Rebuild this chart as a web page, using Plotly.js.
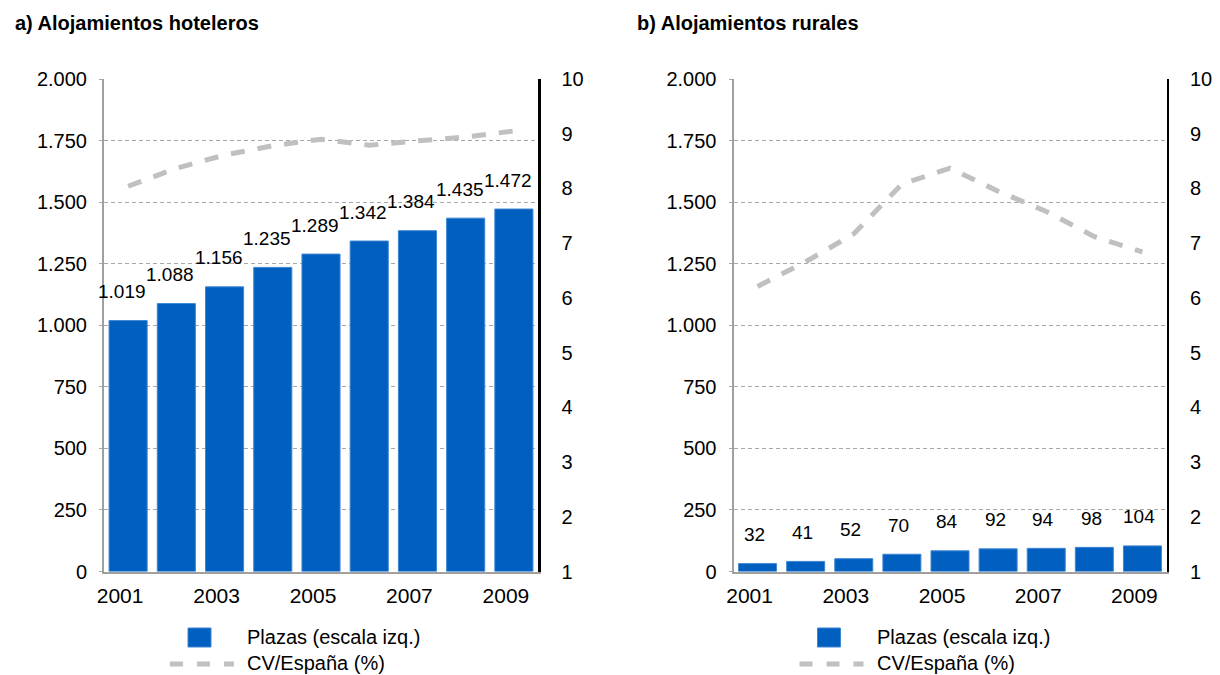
<!DOCTYPE html>
<html>
<head>
<meta charset="utf-8">
<script src="https://cdn.plot.ly/plotly-3.0.1.min.js"></script>
<style>
html,body{margin:0;padding:0;background:#fff;}
#chart{width:1220px;height:675px;}
</style>
</head>
<body>
<div id="chart"></div>
<script>
// ---- data ----
const years = [2001, 2002, 2003, 2004, 2005, 2006, 2007, 2008, 2009];
const hotelPlazas = [1019, 1088, 1156, 1235, 1289, 1342, 1384, 1435, 1472];
const hotelCV = [8.04, 8.37, 8.61, 8.78, 8.90, 8.79, 8.87, 8.94, 9.05];
const ruralPlazas = [32, 41, 52, 70, 84, 92, 94, 98, 104];
const ruralCV = [6.21, 6.66, 7.17, 8.08, 8.37, 7.95, 7.58, 7.12, 6.84];
const xTickVals = [2001, 2003, 2005, 2007, 2009];
const xTickText = ['2001', '2003', '2005', '2007', '2009'];
const leftTickVals = [0, 250, 500, 750, 1000, 1250, 1500, 1750, 2000];
const leftTickText = ['0', '250', '500', '750', '1.000', '1.250', '1.500', '1.750', '2.000'];
const rightTickVals = [1, 2, 3, 4, 5, 6, 7, 8, 9, 10];
const titleA = 'a) Alojamientos hoteleros';
const titleB = 'b) Alojamientos rurales';
const legendBar = 'Plazas (escala izq.)';
const legendLine = 'CV/España (%)';

// ---- helpers ----
const W = 1220, H = 675;
const px = v => v / W;
const py = v => 1 - v / H;
const FONT = 'Liberation Sans, Arial, sans-serif';
const BLUE = '#005FBF';
const GREY = '#C0C0C0';
function fmt(v) {
  if (v < 1000) return String(v);
  const t = Math.floor(v / 1000), r = v % 1000;
  return t + '.' + String(r).padStart(3, '0');
}

const traces = [
  {type: 'bar', x: years, y: hotelPlazas, xaxis: 'x', yaxis: 'y', width: 0.79,
   marker: {color: BLUE, line: {color: '#3E86D4', width: 1}}},
  {type: 'scatter', mode: 'lines', x: years, y: hotelCV, xaxis: 'x', yaxis: 'y2',
   line: {color: GREY, width: 5, dash: '14px,13px'}},
  {type: 'bar', x: years, y: ruralPlazas, xaxis: 'x2', yaxis: 'y3', width: 0.79,
   marker: {color: BLUE, line: {color: '#3E86D4', width: 1}}},
  {type: 'scatter', mode: 'lines', x: years, y: ruralCV, xaxis: 'x2', yaxis: 'y4',
   line: {color: GREY, width: 5, dash: '14px,13px'}}
];

const yDom = [1 - 571.5 / H, 1 - 79 / H];
const xDomA = [104 / W, 538 / W];
const xDomB = [733.5 / W, 1166.5 / W];

function xAx(dom, anchor) {
  return {domain: dom, anchor: anchor, range: [2000.5, 2009.5], tickvals: xTickVals, ticktext: xTickText,
    showgrid: false, zeroline: false, showline: true, linecolor: '#A0A0A0', linewidth: 2,
    ticks: '', ticklabelshift: -8, ticklabelstandoff: 4, tickfont: {size: 21, color: '#000', family: FONT}, fixedrange: true};
}
function yLeft(anchor) {
  return {domain: yDom, anchor: anchor, range: [0, 2000], tickvals: leftTickVals, ticktext: leftTickText,
    showgrid: true, gridcolor: '#A8A8A8', gridwidth: 1, griddash: '4px,3px', zeroline: false,
    showline: true, linecolor: '#A0A0A0', linewidth: 2, ticks: 'outside', ticklen: 3, tickcolor: '#A8A8A8',
    ticklabelstandoff: 8, tickfont: {size: 20, color: '#000', family: FONT}, fixedrange: true};
}
function yRight(anchor, over) {
  return {domain: yDom, anchor: anchor, overlaying: over, side: 'right', range: [1, 10], tickvals: rightTickVals,
    showgrid: false, zeroline: false, showline: true, linecolor: '#000', linewidth: 2.5, ticks: '',
    ticklabelstandoff: 17, tickfont: {size: 20, color: '#000', family: FONT}, fixedrange: true};
}

const annotations = [];
years.forEach((yr, i) => {
  annotations.push({xref: 'x', yref: 'y', x: yr, y: hotelPlazas[i], text: fmt(hotelPlazas[i]),
    showarrow: false, yshift: 29, xshift: -6, font: {size: 19, color: '#000', family: FONT}});
  annotations.push({xref: 'x2', yref: 'y3', x: yr, y: ruralPlazas[i], text: fmt(ruralPlazas[i]),
    showarrow: false, yshift: 29, xshift: -3, font: {size: 19, color: '#000', family: FONT}});
});
// titles
[[titleA, 13], [titleB, 635]].forEach(([t, x]) => {
  annotations.push({xref: 'paper', yref: 'paper', x: px(x), y: py(23), xanchor: 'left', yanchor: 'middle',
    text: '<b>' + t + '</b>', showarrow: false, font: {size: 20, color: '#000', family: FONT}});
});
// legends
const shapes = [];
[0, 629.5].forEach(off => {
  shapes.push({type: 'rect', xref: 'paper', yref: 'paper', x0: px(188 + off), x1: px(211 + off),
    y0: py(647), y1: py(628), fillcolor: BLUE, line: {color: '#3E86D4', width: 1}});
  shapes.push({type: 'line', xref: 'paper', yref: 'paper', x0: px(170 + off), x1: px(234 + off),
    y0: py(664), y1: py(664), line: {color: GREY, width: 5, dash: '13px,14px'}});
  annotations.push({xref: 'paper', yref: 'paper', x: px(245 + off), y: py(637), xanchor: 'left', yanchor: 'middle',
    text: legendBar, showarrow: false, font: {size: 20, color: '#000', family: FONT}});
  annotations.push({xref: 'paper', yref: 'paper', x: px(245 + off), y: py(663), xanchor: 'left', yanchor: 'middle',
    text: legendLine, showarrow: false, font: {size: 20, color: '#000', family: FONT}});
});

const layout = {
  width: W, height: H, margin: {l: 0, r: 0, t: 0, b: 0},
  paper_bgcolor: '#fff', plot_bgcolor: '#fff', showlegend: false,
  font: {family: FONT, color: '#000'},
  xaxis: xAx(xDomA, 'y'),
  yaxis: yLeft('x'),
  yaxis2: yRight('x', 'y'),
  xaxis2: xAx(xDomB, 'y3'),
  yaxis3: yLeft('x2'),
  yaxis4: yRight('x2', 'y3'),
  annotations: annotations, shapes: shapes
};

Plotly.newPlot('chart', traces, layout, {displayModeBar: false, staticPlot: true});
</script>
</body>
</html>
